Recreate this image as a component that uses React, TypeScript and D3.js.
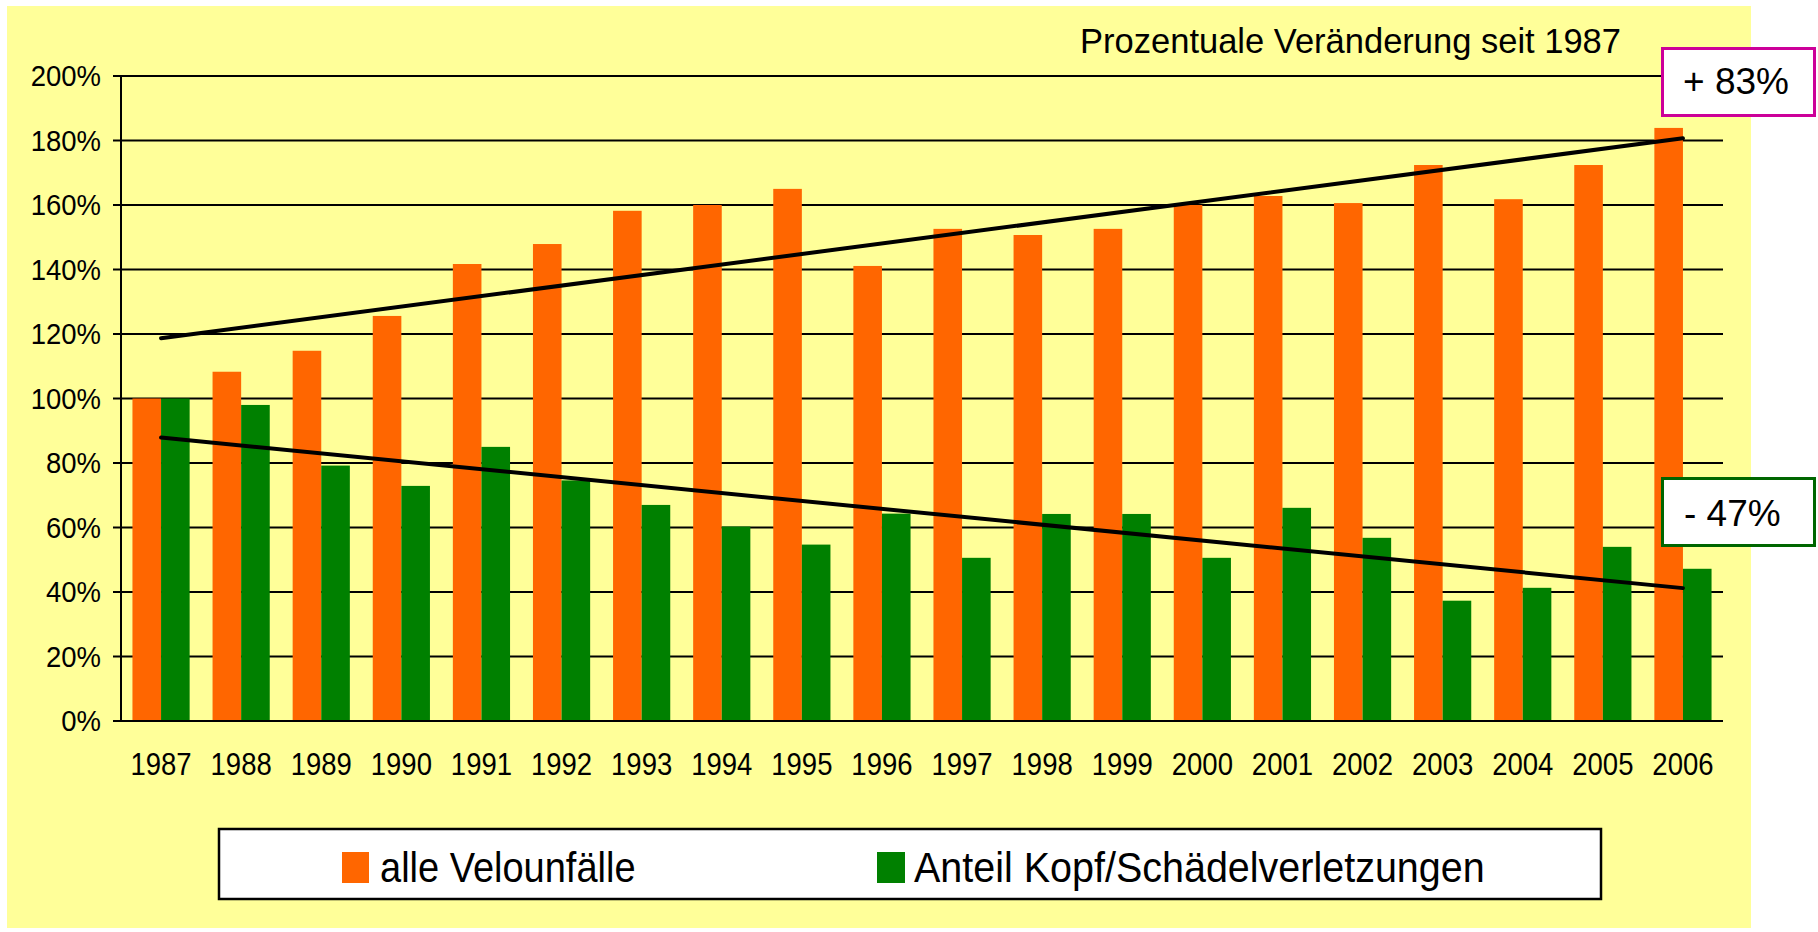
import React from "react";
import * as d3 from "d3";

// values (percent of 1987)
const years = [
  "1987", "1988", "1989", "1990", "1991", "1992", "1993", "1994", "1995", "1996",
  "1997", "1998", "1999", "2000", "2001", "2002", "2003", "2004", "2005", "2006",
];
const alleVelounfaelle = [
  100, 108.3, 114.8, 125.6, 141.7, 147.9, 158.2, 160, 165, 141.1,
  152.6, 150.7, 152.6, 160, 162.8, 160.6, 172.4, 161.8, 172.4, 183.9,
];
const kopfSchaedel = [
  100, 98, 79.2, 72.9, 85, 74.6, 67, 60.3, 54.7, 64.3,
  50.6, 64.2, 64.2, 50.6, 66.1, 56.8, 37.3, 41.3, 54, 47.2,
];
// trend lines, start and end values (1987, 2006)
const trendAlle = [118.7, 180.7];
const trendKopf = [87.9, 41.2];
const yTicks = [0, 20, 40, 60, 80, 100, 120, 140, 160, 180, 200];
const seriesNames = ["alle Velounfälle", "Anteil Kopf/Schädelverletzungen"];
const title = "Prozentuale Veränderung seit 1987";
const labelUp = "+ 83%";
const labelDown = "- 47%";

const ORANGE = "#FF6600";
const GREEN = "#008000";
const BG = "#FFFF99";
const FONT = "'Liberation Sans', Arial, sans-serif";

const W = 1818;
const H = 932;

const Txt = ({ x, y, size, anchor = "start", sy = 1, children }: any) => (
  <text
    transform={`translate(${x},${y}) scale(1,${sy})`}
    fontSize={size}
    textAnchor={anchor}
    fontFamily={FONT}
    fill="#000"
  >
    {children}
  </text>
);

const App = () => {
  const x = d3
    .scaleBand()
    .domain(years)
    .range([121, 1723])
    .paddingInner(0.286)
    .paddingOuter(0.143);
  const xs = d3
    .scaleBand()
    .domain(["alle", "kopf"])
    .range([0, x.bandwidth()]);
  const y = d3.scaleLinear().domain([0, 200]).range([721, 76]);

  const cx = (yr: string) => (x(yr) as number) + x.bandwidth() / 2;
  const first = years[0];
  const last = years[years.length - 1];
  const line = d3
    .line<[string, number]>()
    .x((d) => cx(d[0]))
    .y((d) => y(d[1]));

  return (
    <svg
      width={W}
      height={H}
      style={{ position: "absolute", left: 0, top: 0, display: "block" }}
    >
      <rect x={0} y={0} width={W} height={H} fill="#fff" />
      <rect x={7} y={6} width={1744} height={922} fill={BG} />

      <Txt x={1621} y={53} size={34.5} anchor="end">
        {title}
      </Txt>

      {/* gridlines */}
      {yTicks.map((t) => (
        <line
          key={"g" + t}
          x1={113}
          x2={1723}
          y1={y(t)}
          y2={y(t)}
          stroke="#000"
          strokeWidth={2}
        />
      ))}
      <line x1={121} x2={121} y1={y(200)} y2={y(0)} stroke="#000" strokeWidth={2} />

      {yTicks.map((t) => (
        <Txt key={"l" + t} x={101} y={y(t) + 10} size={27.5} anchor="end" sy={1.1}>
          {t + "%"}
        </Txt>
      ))}

      {/* bars */}
      {years.map((yr, i) => (
        <g key={yr} transform={`translate(${x(yr)},0)`}>
          <rect
            x={xs("alle")}
            y={y(alleVelounfaelle[i])}
            width={xs.bandwidth()}
            height={y(0) - y(alleVelounfaelle[i])}
            fill={ORANGE}
          />
          <rect
            x={xs("kopf")}
            y={y(kopfSchaedel[i])}
            width={xs.bandwidth()}
            height={y(0) - y(kopfSchaedel[i])}
            fill={GREEN}
          />
        </g>
      ))}
      <line x1={121} x2={1723} y1={y(0)} y2={y(0)} stroke="#000" strokeWidth={2} />

      {years.map((yr) => (
        <Txt key={"x" + yr} x={cx(yr)} y={775} size={27.5} anchor="middle" sy={1.15}>
          {yr}
        </Txt>
      ))}

      {/* trend lines */}
      <path
        d={line([[first, trendAlle[0]], [last, trendAlle[1]]]) || ""}
        stroke="#000"
        strokeWidth={4}
        fill="none"
        strokeLinecap="round"
      />
      <path
        d={line([[first, trendKopf[0]], [last, trendKopf[1]]]) || ""}
        stroke="#000"
        strokeWidth={4}
        fill="none"
        strokeLinecap="round"
      />

      {/* change boxes */}
      <rect x={1662.5} y={48.5} width={152} height={67} fill="#fff" stroke="#CC0099" strokeWidth={3} />
      <Txt x={1683} y={94} size={37}>
        {labelUp}
      </Txt>
      <rect x={1662.5} y={478.5} width={152} height={67} fill="#fff" stroke="#006600" strokeWidth={3} />
      <Txt x={1684} y={526} size={37}>
        {labelDown}
      </Txt>

      {/* legend */}
      <rect x={219} y={829} width={1382} height={70} fill="#fff" stroke="#000" strokeWidth={2.5} />
      <rect x={342} y={852} width={27} height={31} fill={ORANGE} />
      <Txt x={380} y={882} size={38} sy={1.13}>
        {seriesNames[0]}
      </Txt>
      <rect x={877} y={852} width={28} height={31} fill={GREEN} />
      <Txt x={914} y={882} size={39.5} sy={1.09}>
        {seriesNames[1]}
      </Txt>
    </svg>
  );
};

export default App;
